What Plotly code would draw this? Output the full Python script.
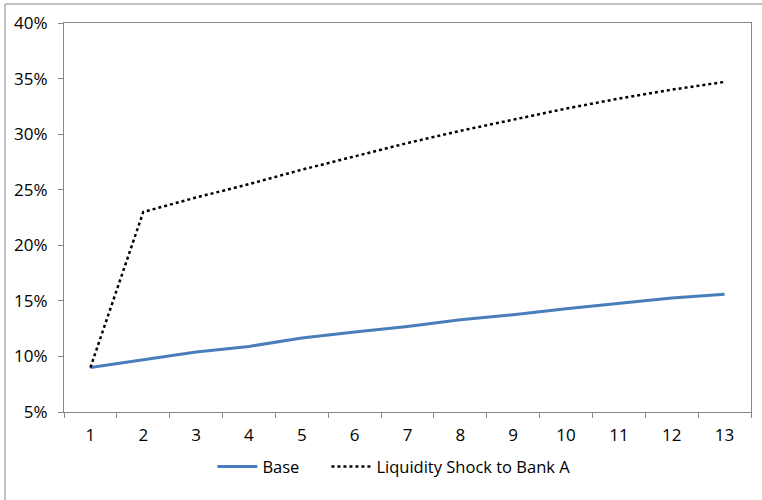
import plotly.graph_objects as go

# Periods on the horizontal axis
periods = [str(i) for i in range(1, 14)]

# Capital ratio paths (fractions)
base = [0.090, 0.097, 0.104, 0.109, 0.1165, 0.122, 0.127, 0.133, 0.1375, 0.143, 0.1475, 0.1525, 0.156]
shock = [0.090, 0.230, 0.243, 0.255, 0.268, 0.280, 0.292, 0.303, 0.313, 0.323, 0.332, 0.340, 0.347]

y_ticks = [0.05, 0.10, 0.15, 0.20, 0.25, 0.30, 0.35, 0.40]

axis_grey = "#868686"
font_family = "Open Sans, Noto Sans, sans-serif"

fig = go.Figure()
fig.add_trace(go.Scatter(
    x=periods, y=base, name="Base", mode="lines",
    line=dict(color="#4A7EBB", width=3), legend="legend",
))
fig.add_trace(go.Scatter(
    x=periods, y=shock, name="Liquidity Shock to Bank A", mode="lines",
    line=dict(color="#000000", width=2.5, dash="dot"), legend="legend2",
))

legend_common = dict(orientation="h", xanchor="left", y=-0.141, yanchor="middle",
                     font=dict(size=16.5), itemwidth=40, bgcolor="rgba(0,0,0,0)")

fig.update_layout(
    width=762, height=500,
    margin=dict(l=64, r=11, t=23, b=88),
    paper_bgcolor="white", plot_bgcolor="white",
    font=dict(family=font_family, size=17, color="#000000"),
    showlegend=True,
    legend=dict(x=0.216, **legend_common),
    legend2=dict(x=0.382, **legend_common),
    shapes=[dict(type="rect", xref="paper", yref="paper",
                 x0=-0.0859, x1=1.05, y0=-0.25, y1=1.0488,
                 line=dict(color=axis_grey, width=1), layer="below")],
)

fig.update_xaxes(
    type="category", tickson="boundaries", range=[-0.5, 12.5],
    showline=True, linecolor=axis_grey, linewidth=1, mirror=True,
    ticks="outside", ticklen=5, tickcolor=axis_grey,
    showgrid=False, zeroline=False, ticklabelstandoff=8,
)
fig.update_yaxes(
    range=[0.05, 0.40], tickvals=y_ticks, tickformat=".0%",
    showline=True, linecolor=axis_grey, linewidth=1, mirror=True,
    ticks="outside", ticklen=5, tickcolor=axis_grey,
    showgrid=False, zeroline=False, ticklabelstandoff=7,
)

fig.write_html("out.html")
